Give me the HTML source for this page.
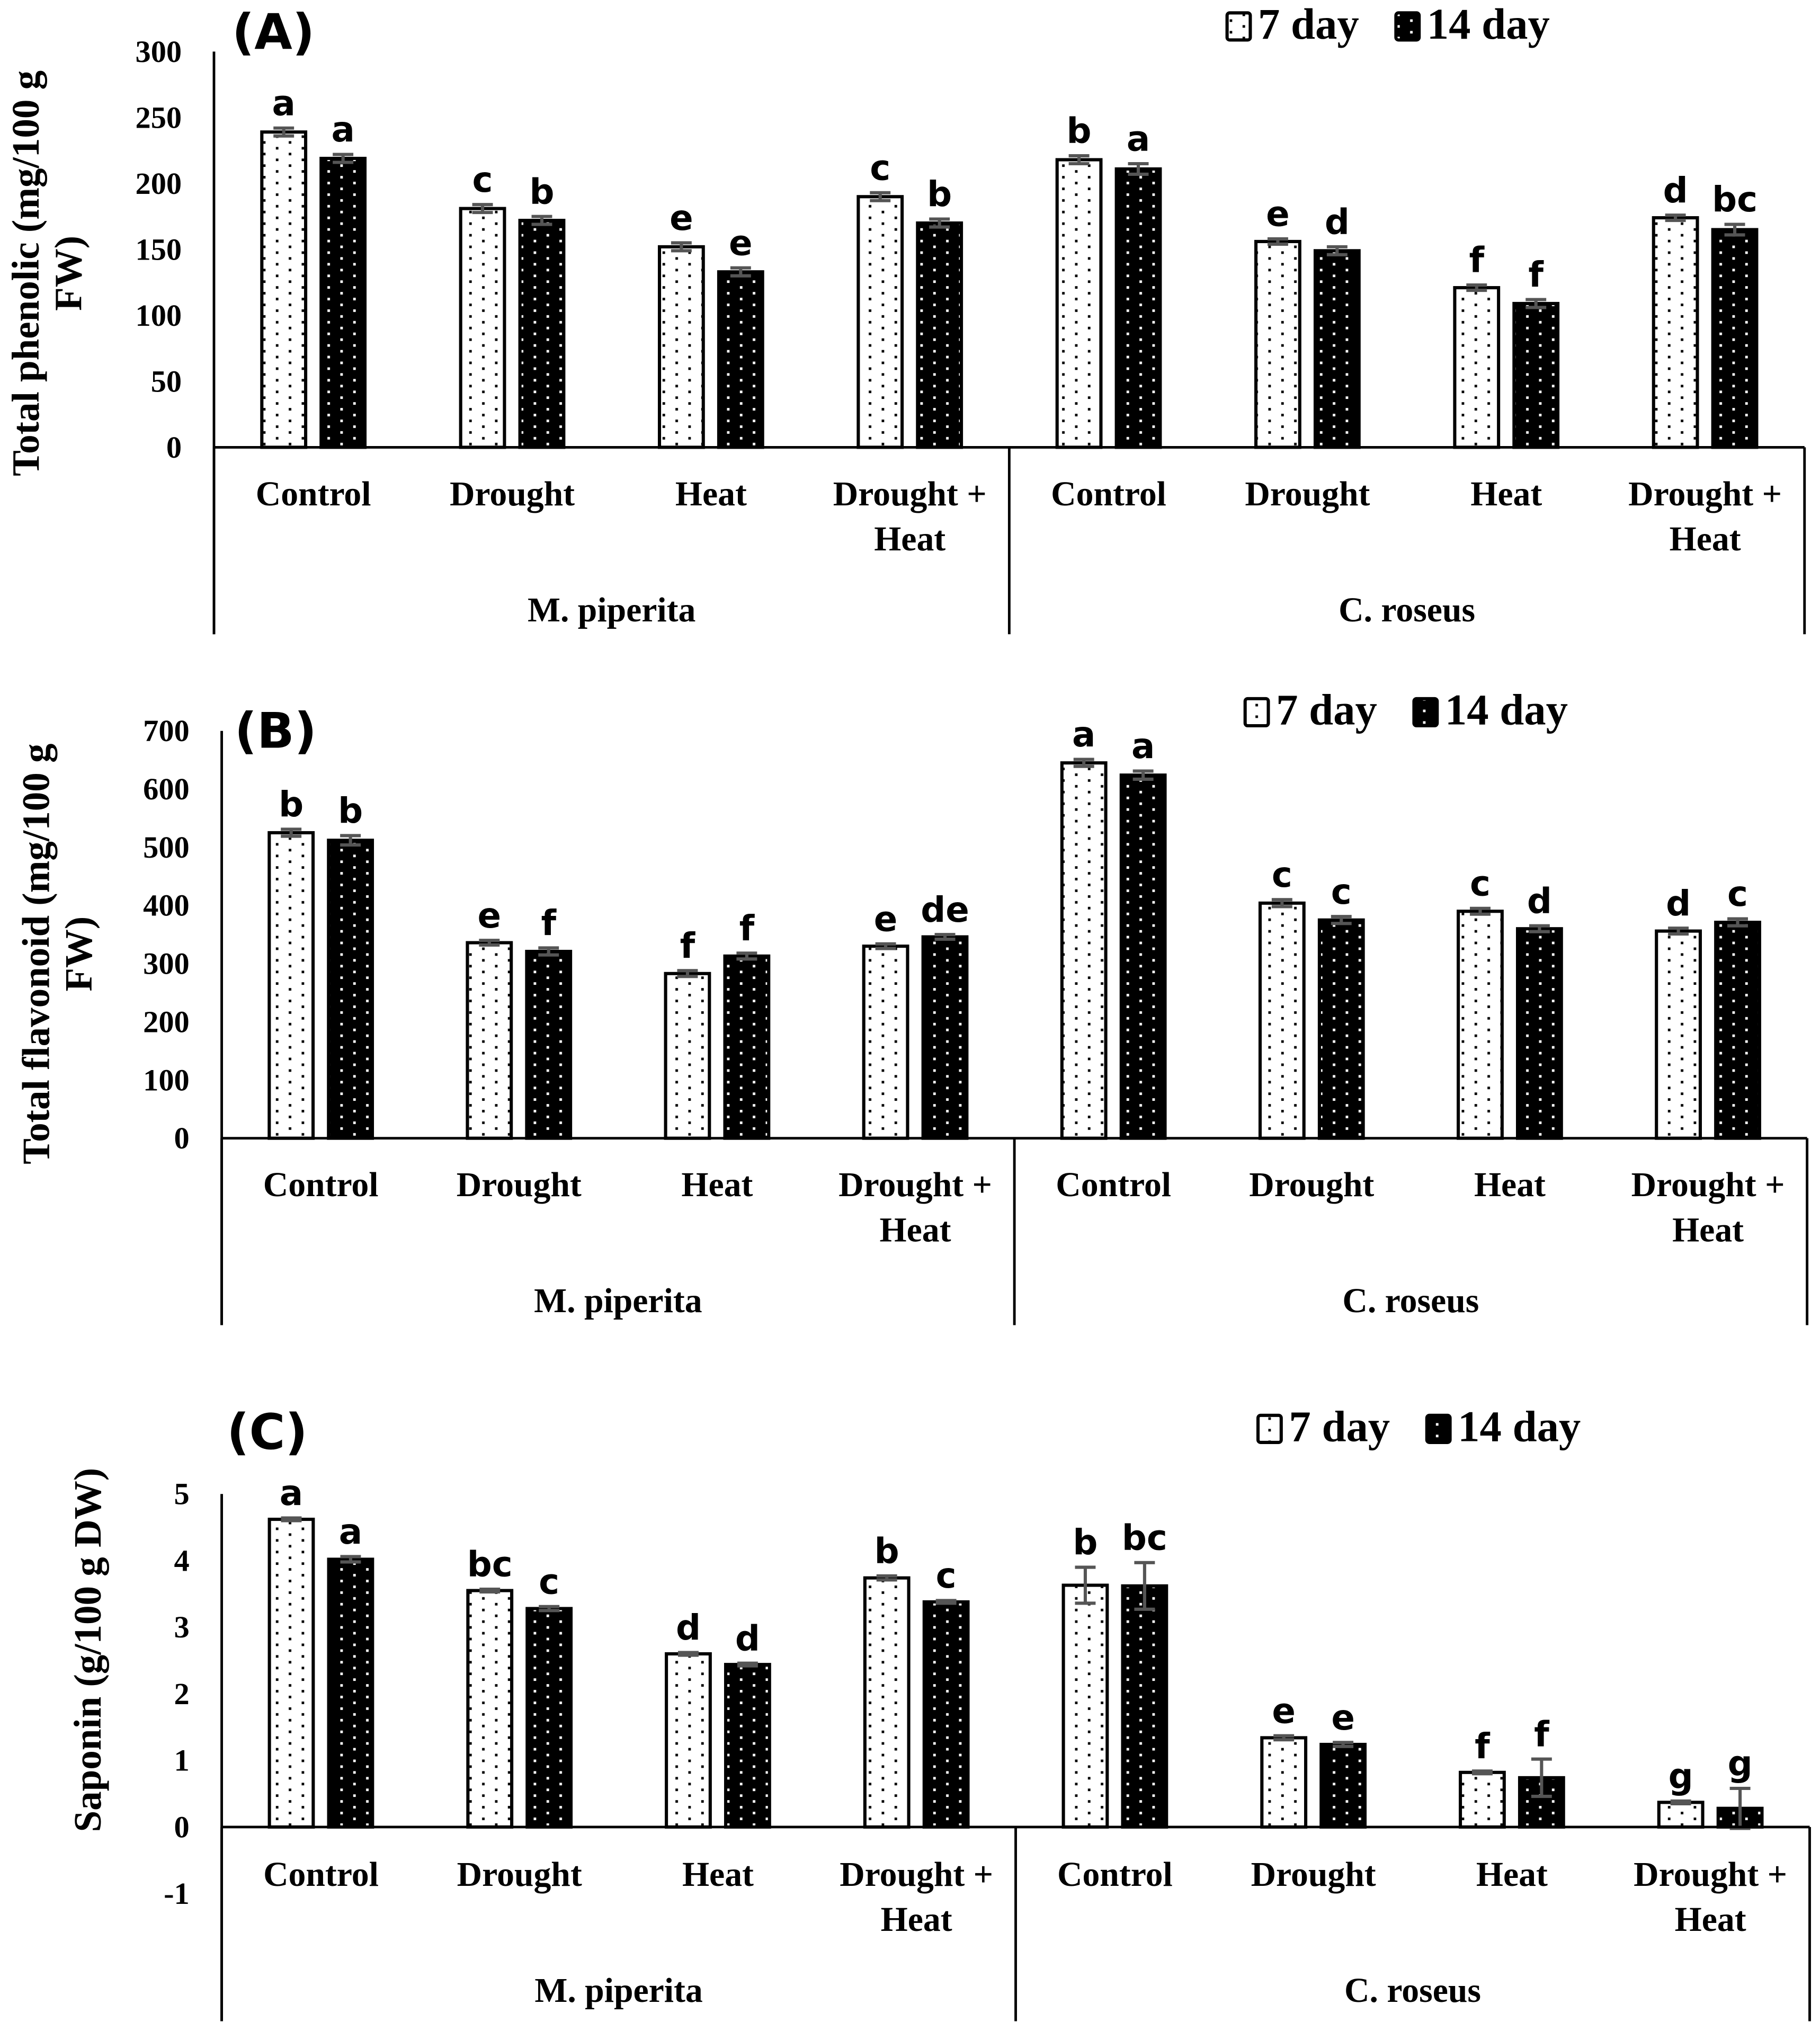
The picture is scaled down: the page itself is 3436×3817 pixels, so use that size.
<!DOCTYPE html>
<html><head><meta charset="utf-8"><style>
html,body{margin:0;padding:0;background:#fff;}
svg{display:block;}
</style></head><body>
<svg id="fig" xmlns="http://www.w3.org/2000/svg" width="3436" height="3817" viewBox="0 0 1412 1568.6">
<defs>
<pattern id="pw" patternUnits="userSpaceOnUse" width="20" height="9"><rect width="20" height="9" fill="#fff"/><rect x="4" y="1.5" width="2" height="2" fill="#000"/><rect x="14" y="6" width="2" height="2" fill="#000"/></pattern>
<pattern id="pb" patternUnits="userSpaceOnUse" width="20" height="9"><rect width="20" height="9" fill="#000"/><rect x="4" y="1.5" width="2" height="2" fill="#fff"/><rect x="14" y="6" width="2" height="2" fill="#fff"/></pattern>
</defs>
<rect width="1412" height="1568.6" fill="#fff"/>
</svg>
<script>
const categories = ["Control","Drought","Heat","Drought +|Heat","Control","Drought","Heat","Drought +|Heat"];
const groups = ["M. piperita","C. roseus"];
const phenol7 = [239,181,152,190,218,156,121,174];
const phenol14 = [219,172,133,170,211,149,109,165];
const phenolErr7 = [3,3,3,3,3,2,2,2];
const phenolErr14 = [3,3,3,3,4,3,3,4];
const phenolLet7 = ["a","c","e","c","b","e","f","d"];
const phenolLet14 = ["a","b","e","b","a","d","f","bc"];
const phenolTicks = [0,50,100,150,200,250,300];
const flav7 = [525,336,283,330,645,404,390,356];
const flav14 = [512,321,313,346,624,375,360,371];
const flavErr7 = [6,4,5,4,6,6,5,5];
const flavErr14 = [8,6,5,4,7,6,5,6];
const flavLet7 = ["b","e","f","e","a","c","c","d"];
const flavLet14 = ["b","f","f","de","a","c","d","c"];
const flavTicks = [0,100,200,300,400,500,600,700];
const sap7 = [4.62,3.55,2.6,3.74,3.63,1.34,0.82,0.37];
const sap14 = [4.02,3.28,2.44,3.38,3.62,1.24,0.74,0.28];
const sapErr7 = [0.02,0.02,0.02,0.03,0.27,0.03,0.02,0.02];
const sapErr14 = [0.04,0.03,0.02,0.02,0.35,0.03,0.28,0.3];
const sapLet7 = ["a","bc","d","b","b","e","f","g"];
const sapLet14 = ["a","c","d","c","bc","e","f","g"];
const sapTicks = [-1,0,1,2,3,4,5];

const NS="http://www.w3.org/2000/svg";
const svg=document.getElementById('fig');
function mk(tag,attrs,parent){const e=document.createElementNS(NS,tag);for(const k in attrs)e.setAttribute(k,attrs[k]);(parent||svg).appendChild(e);return e;}
const serif='"Liberation Serif", serif', sans='"DejaVu Sans", "Liberation Sans", sans-serif';

function panel(cfg){
  const g=mk('g',{});
  
  
  const x0=cfg.x0,x1=cfg.x1,yMin=cfg.ticks[0],yMax=cfg.ticks[cfg.ticks.length-1];
  const yScale=v=>cfg.yBot+(v-yMin)/(yMax-yMin)*(cfg.yTop-cfg.yBot);
  const base=yScale(0);
  const cw=(x1-x0)/categories.length;
  const xc=i=>x0+cw*(i+0.5);
  const ya=mk('line',{x1:x0,y1:cfg.yTop,x2:x0,y2:cfg.sepBot,stroke:'#000','stroke-width':2},g);
  
  
  cfg.ticks.forEach(t=>{
    const tl=mk('text',{x:x0-25,y:yScale(t)+8,'text-anchor':'end','font-family':serif,'font-weight':'bold','font-size':24},g);
    tl.textContent=t;
    
    
  });
  [[cfg.v7,cfg.e7,cfg.l7,'url(#pw)',-40],[cfg.v14,cfg.e14,cfg.l14,'url(#pb)',6]].forEach((s,si)=>{
    s[0].forEach((v,i)=>{
      const bx=xc(i)+s[4], yv=yScale(v);
      const r=mk('rect',{x:bx,y:Math.min(yv,base),width:34,height:Math.abs(base-yv),fill:s[3],stroke:'#000','stroke-width':2.5},g);
      
      
      const cx=bx+17, eh=yScale(v+s[1][i]), el=yScale(v-s[1][i]);
      const ep=mk('path',{d:`M${cx},${eh}V${el}M${cx-8},${eh}H${cx+8}M${cx-8},${el}H${cx+8}`,stroke:'#555','stroke-width':2.5,fill:'none'},g);
      
      
      const lt=mk('text',{x:cx,y:eh-10,'text-anchor':'middle','font-family':sans,'font-weight':'bold','font-size':27},g);
      lt.textContent=s[2][i];
      
      
    });
  });
  const xa=mk('line',{x1:x0,y1:base,x2:x1,y2:base,stroke:'#000','stroke-width':2},g);
  
  
  [x0,(x0+x1)/2,x1].forEach(sx=>{
    const sl=mk('line',{x1:sx,y1:base,x2:sx,y2:cfg.sepBot,stroke:'#000','stroke-width':2},g);
    
    
  });
  categories.forEach((c,i)=>{
    c.split('|').forEach((ln,k)=>{
      const t=mk('text',{x:xc(i),y:cfg.labY+k*35,'text-anchor':'middle','font-family':serif,'font-weight':'bold','font-size':27},g);
      t.textContent=ln;
      
      
    });
  });
  groups.forEach((gn,k)=>{
    const t=mk('text',{x:x0+(x1-x0)*(k*2+1)/4,y:cfg.labY+90,'text-anchor':'middle','font-family':serif,'font-weight':'bold','font-size':27},g);
    t.textContent=gn;
    
    
  });
  cfg.title.forEach((ln,k)=>{
    const tx=cfg.titleX+k*33;
    const t=mk('text',{x:tx,y:cfg.titleY,transform:`rotate(-90 ${tx} ${cfg.titleY})`,'text-anchor':'middle','font-family':serif,'font-weight':'bold','font-size':30},g);
    t.textContent=ln;
    
    
  });
  const pl=mk('text',{x:cfg.plX,y:cfg.plY,'font-family':sans,'font-weight':'bold','font-size':38},g);
  pl.textContent=cfg.label;
  
  
  const lx=cfg.legX,ly=cfg.legY;
  const b1=mk('rect',{x:lx,y:ly-20,width:18,height:21,fill:'url(#pw)',stroke:'#000','stroke-width':2.5,rx:2},g);
  
  
  const t1=mk('text',{x:lx+24,y:ly,'font-family':serif,'font-weight':'bold','font-size':34},g);
  t1.textContent='7 day';
  
  
  const b2=mk('rect',{x:lx+131,y:ly-20,width:18,height:21,fill:'url(#pb)',stroke:'#000','stroke-width':2.5,rx:2},g);
  
  
  const t2=mk('text',{x:lx+155,y:ly,'font-family':serif,'font-weight':'bold','font-size':34},g);
  t2.textContent='14 day';
  
  
}
panel({id:'phenolic',x0:166,x1:1400,yTop:40,yBot:347,sepBot:492,ticks:phenolTicks,v7:phenol7,v14:phenol14,e7:phenolErr7,e14:phenolErr14,l7:phenolLet7,l14:phenolLet14,labY:392,title:['Total phenolic (mg/100 g','FW)'],titleX:30,titleY:212,label:'(A)',plX:180,plY:38,legX:952,legY:30});
panel({id:'flavonoid',x0:172,x1:1402,yTop:567,yBot:883,sepBot:1028,ticks:flavTicks,v7:flav7,v14:flav14,e7:flavErr7,e14:flavErr14,l7:flavLet7,l14:flavLet14,labY:928,title:['Total flavonoid (mg/100 g','FW)'],titleX:38,titleY:740,label:'(B)',plX:182,plY:580,legX:966,legY:562});
panel({id:'saponin',x0:172,x1:1404,yTop:1159,yBot:1469,sepBot:1568,ticks:sapTicks,v7:sap7,v14:sap14,e7:sapErr7,e14:sapErr14,l7:sapLet7,l14:sapLet14,labY:1463,title:['Saponin (g/100 g DW)'],titleX:78,titleY:1280,label:'(C)',plX:176,plY:1124,legX:976,legY:1118});
</script>
</body></html>
